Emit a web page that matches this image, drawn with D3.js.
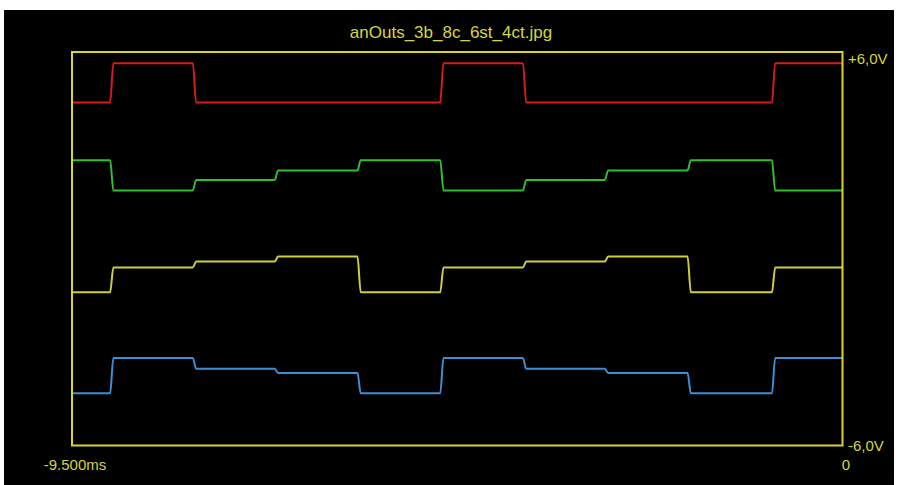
<!DOCTYPE html>
<html>
<head>
<meta charset="utf-8">
<script src="https://cdn.jsdelivr.net/npm/d3@7"></script>
<style>
  body { margin: 0; background: #fff; }
  svg text { font-family: "Liberation Sans", Arial, sans-serif; fill: #d6d63c; }
  .title { font-family: "Liberation Sans Narrow", "Liberation Sans", Arial, sans-serif; font-size: 17px; }
  .lbl { font-size: 15px; }
</style>
</head>
<body>
<svg class="scope" width="901" height="485"></svg>
<script>
// edge times in ms
const edgeTimes = [-9.03, -8.01, -7.0, -5.98, -4.96, -3.94, -2.93, -1.91, -0.87];

// level of each trace before, between and after the edges (volts)
const redLevels = [4.46, 5.66, 4.46, 4.46, 4.46, 5.66, 4.46, 4.46, 4.46, 5.66];
const greenLevels = [2.70, 1.78, 2.10, 2.39, 2.70, 1.78, 2.10, 2.39, 2.70, 1.78];
const yellowLevels = [-1.33, -0.57, -0.39, -0.24, -1.33, -0.57, -0.39, -0.24, -1.33, -0.57];
const blueLevels = [-4.41, -3.33, -3.66, -3.79, -4.41, -3.33, -3.66, -3.79, -4.41, -3.33];

const timeRange = [-9.5, 0];
const voltRange = [-6, 6];
const timeLabels = ["-9.500ms", "0"];
const voltLabels = ["+6,0V", "-6,0V"];
const title = "anOuts_3b_8c_6st_4ct.jpg";

const traces = [
  { levels: redLevels, color: "#d41c1c" },
  { levels: greenLevels, color: "#2fbf2f" },
  { levels: yellowLevels, color: "#d0cf3a" },
  { levels: blueLevels, color: "#3a8fd6" },
];

const svg = d3.select("svg.scope");

svg.append("rect")
  .attr("x", 4).attr("y", 10)
  .attr("width", 890).attr("height", 475)
  .attr("fill", "#000");

const x = d3.scaleLinear().domain(timeRange).range([72, 842.5]);
const y = d3.scaleLinear().domain(voltRange).range([445.5, 52]);

const rise = 0.04; // transition width in ms

function points(levels) {
  const pts = [[timeRange[0], levels[0]]];
  edgeTimes.forEach((t, i) => {
    pts.push([t, levels[i]]);
    pts.push([t + rise, levels[i + 1]]);
  });
  pts.push([timeRange[1], levels[levels.length - 1]]);
  return pts;
}

const line = d3.line()
  .x(d => x(d[0]))
  .y(d => y(d[1]))
  .curve(d3.curveMonotoneX);

svg.selectAll("path.trace")
  .data(traces)
  .enter()
  .append("path")
  .attr("class", "trace")
  .attr("fill", "none")
  .attr("stroke", d => d.color)
  .attr("stroke-width", 2)
  .attr("d", d => line(points(d.levels)));

svg.append("rect")
  .attr("x", x(timeRange[0]))
  .attr("y", y(voltRange[1]))
  .attr("width", x(timeRange[1]) - x(timeRange[0]))
  .attr("height", y(voltRange[0]) - y(voltRange[1]))
  .attr("fill", "none")
  .attr("stroke", "#d8d728")
  .attr("stroke-width", 2);

svg.append("text")
  .attr("class", "title")
  .attr("x", 451)
  .attr("y", 38)
  .attr("text-anchor", "middle")
  .text(title);

svg.append("text")
  .attr("class", "lbl")
  .attr("x", 848)
  .attr("y", 64)
  .text(voltLabels[0]);

svg.append("text")
  .attr("class", "lbl")
  .attr("x", 848)
  .attr("y", 451)
  .text(voltLabels[1]);

svg.append("text")
  .attr("class", "lbl")
  .attr("x", 75)
  .attr("y", 470)
  .attr("text-anchor", "middle")
  .text(timeLabels[0]);

svg.append("text")
  .attr("class", "lbl")
  .attr("x", 846)
  .attr("y", 470)
  .attr("text-anchor", "middle")
  .text(timeLabels[1]);
</script>
</body>
</html>
